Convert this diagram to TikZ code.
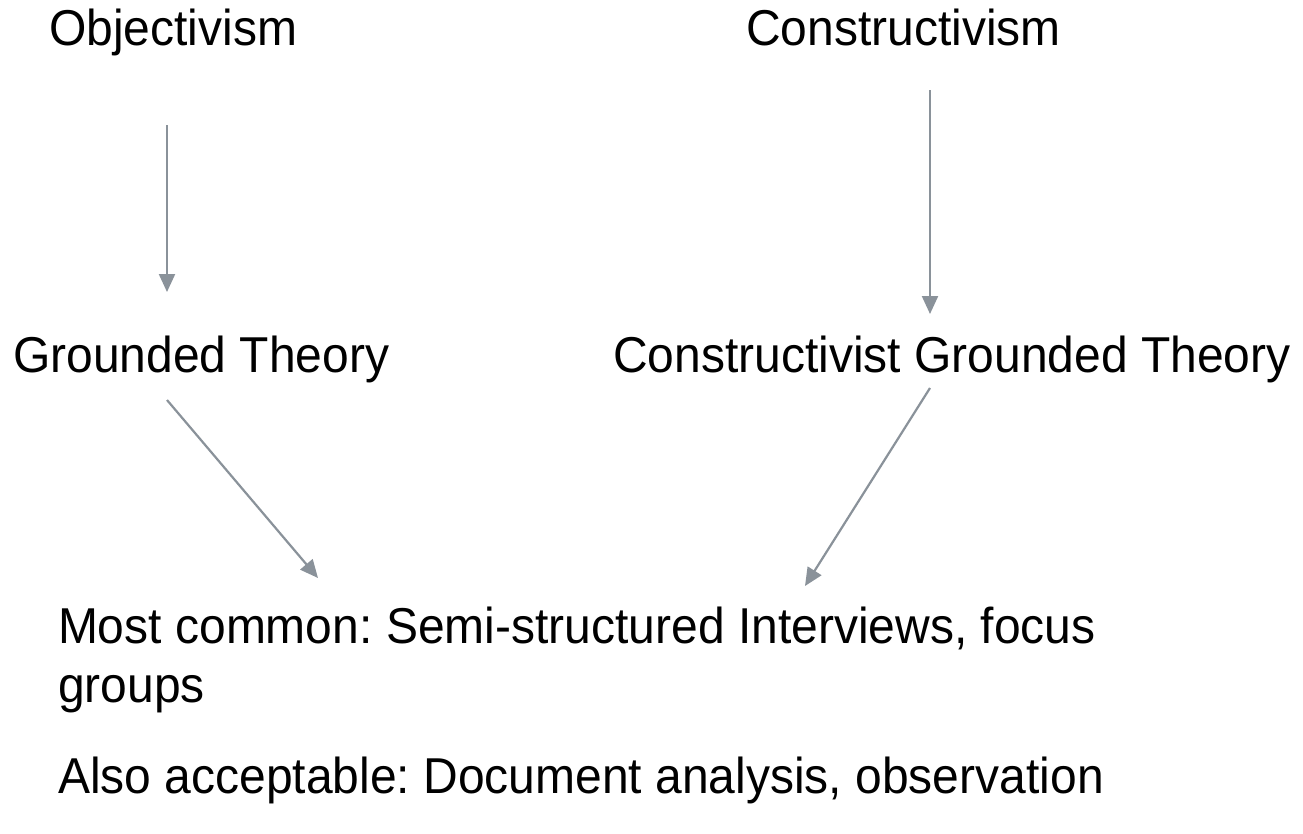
\documentclass[tikz,border=0pt]{standalone}
\usepackage{fontspec}
\setmainfont{Liberation Sans}
\usetikzlibrary{arrows.meta}
\definecolor{arrowgray}{RGB}{138,146,154}
\frenchspacing
\newcommand{\tallt}[1]{\scalebox{1}[1.05]{#1}}
\tikzset{
  lbl/.style={anchor=base west, inner sep=0pt, outer sep=0pt, font=\fontsize{48}{56}\selectfont\frenchspacing, text=black},
  conn/.style={draw=arrowgray, line width=2.2pt, -{Triangle[length=18pt,width=16pt]}}
}
\begin{document}
\begin{tikzpicture}[x=1pt,y=-1pt]
\useasboundingbox[fill=white] (0,0) rectangle (1303,833);
\node[lbl] (obj) at (49,45) {\tallt{Objectivism}};
\node[lbl] (con) at (746,45) {\tallt{Constructivism}};
\node[lbl] (gt) at (13,372) {\tallt{Grounded Theory}};
\node[lbl] (cgt) at (613,372) {\tallt{Constructivist Grounded Theory}};
\node[lbl] (mc) at (58,643) {\tallt{Most common: Semi-structured Interviews, focus}};
\node[lbl] (gr) at (58,702) {\tallt{groups}};
\node[lbl] (aa) at (58,793) {\tallt{Also acceptable: Document analysis, observation}};
\coordinate (a1s) at (167,125);
\coordinate (a1e) at (167,292);
\coordinate (a2s) at (930,90);
\coordinate (a2e) at (930,314);
\coordinate (d1s) at (167,400);
\coordinate (d1e) at (318,578);
\coordinate (d2s) at (930,388);
\coordinate (d2e) at (805,586);
\draw[conn] (a1s) -- (a1e);
\draw[conn] (a2s) -- (a2e);
\draw[conn] (d1s) -- (d1e);
\draw[conn] (d2s) -- (d2e);
\end{tikzpicture}
\end{document}
